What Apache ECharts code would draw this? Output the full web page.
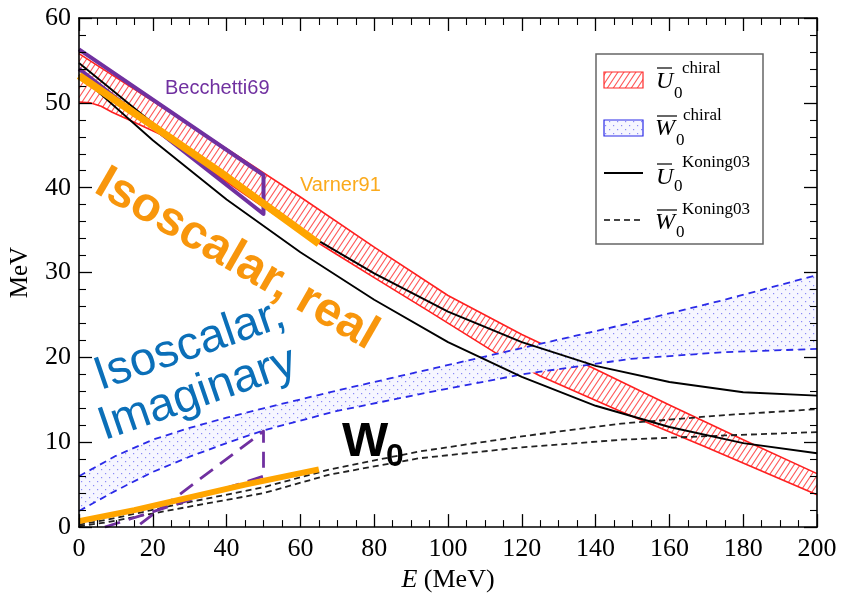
<!DOCTYPE html>
<html>
<head>
<meta charset="utf-8">
<script src="https://cdn.jsdelivr.net/npm/echarts/dist/echarts.min.js"></script>
<style>html,body{margin:0;padding:0;background:#fff}#chart{width:844px;height:598px}</style>
</head>
<body>
<div id="chart"></div>
<script>
// ---------- data ----------
// chiral real band (U0 chiral)
const redUpE = [0, 20, 40, 60, 80, 100, 120, 140, 160, 180, 200];
const redUpV = [55.8, 50.2, 44.6, 38.9, 33.0, 27.3, 22.7, 18.6, 14.4, 10.3, 6.3];
const redLoE = [0, 3, 6, 9, 12, 16, 22, 30, 40, 50, 60, 70, 80, 95, 113, 125, 147, 170, 200];
const redLoV = [50.1, 50.0, 49.6, 48.9, 48.3, 47.5, 46.3, 43.8, 40.7, 37.7, 34.8, 32.1, 29.4, 25.4, 20.5, 17.8, 13.6, 9.4, 3.8];
// chiral imaginary band (W0 chiral)
const blueUpE = [0, 10, 20, 30, 40, 50, 70, 95, 120, 149, 175, 200];
const blueUpV = [6.0, 8.4, 10.3, 11.7, 12.9, 14.0, 16.1, 18.6, 21.1, 24.0, 26.8, 29.7];
const blueLoE = [0, 10, 20, 30, 40, 50, 70, 95, 120, 149, 174, 200];
const blueLoV = [1.9, 4.3, 6.5, 8.3, 9.9, 11.4, 13.7, 15.9, 18.0, 19.8, 20.6, 21.0];
// Koning03 real (two nuclei)
const konUaE = [0, 20, 40, 60, 80, 100, 120, 140, 160, 180, 200];
const konUaV = [53.3, 45.6, 38.6, 32.4, 26.8, 21.8, 17.7, 14.3, 11.8, 9.9, 8.7];
const konUbE = [0, 20, 40, 60, 80, 100, 120, 140, 160, 180, 200];
const konUbV = [54.7, 47.6, 41.0, 35.0, 29.9, 25.4, 21.8, 19.0, 17.1, 15.9, 15.5];
// Koning03 imaginary (two nuclei)
const konWaE = [0, 8, 26, 50, 68, 92, 120, 147, 175, 200];
const konWaV = [0.3, 0.9, 2.6, 4.7, 6.8, 8.9, 10.7, 12.2, 13.2, 13.9];
const konWbE = [0, 8, 26, 50, 68, 92, 120, 147, 175, 200];
const konWbV = [0.1, 0.6, 2.1, 4.0, 6.2, 8.1, 9.4, 10.3, 10.8, 11.2];
// Varner91
const varRealE = [0, 20, 40, 65];
const varRealV = [53.2, 47.3, 41.3, 33.4];
const varImagE = [0, 15, 30, 45, 65];
const varImagV = [0.7, 2.0, 3.5, 5.0, 6.8];
// Becchetti69
const becRealE = [0, 50, 50, 0];
const becRealV = [56.3, 41.5, 36.9, 54.0];
const becImagE = [7, 50, 50, 15.5];
const becImagV = [0, 6.0, 11.3, 0];
// axes
const xTicks = {min: 0, max: 200, step: 20};
const yTicks = {min: 0, max: 60, step: 10};

// ---------- patterns ----------
function hatchPattern() {
  const c = document.createElement('canvas');
  c.width = 6; c.height = 9;
  const g = c.getContext('2d');
  g.fillStyle = '#ffffff'; g.fillRect(0, 0, 6, 9);
  g.strokeStyle = '#ff5a5a'; g.lineWidth = 1.1;
  g.beginPath();
  g.moveTo(-1, 10.5); g.lineTo(7, -1.5);
  g.moveTo(-7, 10.5); g.lineTo(1, -1.5);
  g.moveTo(5, 10.5); g.lineTo(13, -1.5);
  g.stroke();
  return {image: c, repeat: 'repeat'};
}
function dotPattern() {
  const c = document.createElement('canvas');
  c.width = 8; c.height = 8;
  const g = c.getContext('2d');
  g.fillStyle = '#f6f6ff'; g.fillRect(0, 0, 8, 8);
  g.fillStyle = '#8a8af6';
  g.fillRect(1, 1, 1.2, 1.2);
  g.fillRect(5, 5, 1.2, 1.2);
  return {image: c, repeat: 'repeat'};
}
const HATCH = hatchPattern();
const DOTS = dotPattern();

function band(upE, upV, loE, loV, fill, z) {
  return {
    type: 'custom', coordinateSystem: 'cartesian2d', z: z, silent: true,
    data: [[upE[0], upV[0]]],
    renderItem: function (params, api) {
      const pts = [];
      for (let i = 0; i < upE.length; i++) pts.push(api.coord([upE[i], upV[i]]));
      for (let i = loE.length - 1; i >= 0; i--) pts.push(api.coord([loE[i], loV[i]]));
      return {type: 'polygon', shape: {points: pts}, style: {fill: fill, stroke: null}};
    }
  };
}
function line(E, V, color, width, type, z) {
  return {
    type: 'line', data: E.map((e, i) => [e, V[i]]), showSymbol: false, symbol: 'none',
    lineStyle: {color: color, width: width, type: type || 'solid', join: 'round'}, z: z,
    smooth: false, silent: true, animation: false
  };
}

const serif = 'Liberation Serif';
function xAxisDef(top) {
  return {
    type: 'value', position: top ? 'top' : 'bottom', min: xTicks.min, max: xTicks.max, interval: xTicks.step, z: 10,
    axisLine: {onZero: false, lineStyle: {color: '#000', width: 1.6}},
    axisTick: {inside: true, length: 13, lineStyle: {color: '#000', width: 1.3}},
    minorTick: {show: true, splitNumber: 4, length: 7, lineStyle: {color: '#000', width: 1.1}},
    splitLine: {show: false}, minorSplitLine: {show: false},
    axisLabel: {show: !top, color: '#000', fontFamily: serif, fontSize: 26, margin: 9},
    name: top ? '' : '{i|E} (MeV)', nameLocation: 'middle', nameGap: 34,
    nameTextStyle: {color: '#000', fontFamily: serif, fontSize: 26,
      rich: {i: {fontStyle: 'italic', fontFamily: serif, fontSize: 26, color: '#000'}}}
  };
}
function yAxisDef(right) {
  return {
    type: 'value', position: right ? 'right' : 'left', min: yTicks.min, max: yTicks.max, interval: yTicks.step, z: 10,
    axisLine: {onZero: false, lineStyle: {color: '#000', width: 1.6}},
    axisTick: {inside: true, length: 13, lineStyle: {color: '#000', width: 1.3}},
    minorTick: {show: true, splitNumber: 5, length: 7, lineStyle: {color: '#000', width: 1.1}},
    splitLine: {show: false}, minorSplitLine: {show: false},
    axisLabel: {show: !right, color: '#000', fontFamily: serif, fontSize: 26, margin: 8},
    name: right ? '' : 'MeV', nameLocation: 'middle', nameGap: 46, nameRotate: 90,
    nameTextStyle: {color: '#000', fontFamily: serif, fontSize: 25}
  };
}

function txt(x, y, text, font, fill, align, rot) {
  return {type: 'text', x: x, y: y, rotation: (rot || 0) * Math.PI / 180, z: 100, silent: true,
    style: {text: text, font: font, fill: fill, align: align || 'left', verticalAlign: 'middle',
      textAlign: align || 'left', textVerticalAlign: 'middle'}};
}
function seg(x1, y1, x2, y2, color, w, dash) {
  return {type: 'line', z: 100, silent: true, shape: {x1: x1, y1: y1, x2: x2, y2: y2},
    style: {stroke: color, lineWidth: w, lineDash: dash || null}};
}
const itF = 'italic 24px "Liberation Serif"';
const smF = '17px "Liberation Serif"';
const legend = [
  {type: 'rect', z: 99, silent: true, shape: {x: 596, y: 54, width: 167, height: 190},
    style: {fill: '#fff', stroke: '#666', lineWidth: 1.5}},
  {type: 'rect', z: 100, silent: true, shape: {x: 604, y: 72, width: 39, height: 16},
    style: {fill: HATCH, stroke: '#ff2a2a', lineWidth: 1.2}},
  {type: 'rect', z: 100, silent: true, shape: {x: 604, y: 120, width: 39, height: 16},
    style: {fill: DOTS, stroke: '#2a2ae8', lineWidth: 1.2}},
  seg(604, 173, 643, 173, '#000', 1.8),
  seg(604, 220, 643, 220, '#444', 1.8, [6, 4]),
  txt(656, 82, 'U', itF, '#000'), seg(657, 68, 672, 68, '#000', 1.2),
  txt(674, 94, '0', smF, '#000'), txt(682, 69, 'chiral', smF, '#000'),
  txt(655, 129, 'W', itF, '#000'), seg(657, 116, 677, 116, '#000', 1.2),
  txt(676, 141, '0', smF, '#000'), txt(683, 116, 'chiral', smF, '#000'),
  txt(656, 178, 'U', itF, '#000'), seg(657, 164, 672, 164, '#000', 1.2),
  txt(674, 187, '0', smF, '#000'), txt(682, 163, 'Koning03', smF, '#000'),
  txt(655, 223, 'W', itF, '#000'), seg(657, 210, 677, 210, '#000', 1.2),
  txt(676, 233, '0', smF, '#000'), txt(682, 210, 'Koning03', smF, '#000')
];
const notes = [
  txt(165, 88, 'Becchetti69', '20px "Liberation Sans"', '#7030a0'),
  txt(300, 185, 'Varner91', '20px "Liberation Sans"', '#fbaa1c'),
  txt(99, 180, 'Isoscalar, real', 'bold 48px "Liberation Sans"', '#f8960c', 'left', -30),
  txt(96, 378, 'Isoscalar,', '47px "Liberation Sans"', '#0b6fb8', 'left', 19),
  txt(100, 428, 'Imaginary', '47px "Liberation Sans"', '#0b6fb8', 'left', 19),
  txt(342, 442, 'W', 'bold 49px "Liberation Sans"', '#000'),
  txt(386, 457, '0', 'bold 32px "Liberation Sans"', '#000')
];

const option = {
  animation: false,
  backgroundColor: '#fff',
  grid: {left: 79, right: 27, top: 18, bottom: 65},
  xAxis: [xAxisDef(false), xAxisDef(true)],
  yAxis: [yAxisDef(false), yAxisDef(true)],
  series: [
    band(redUpE, redUpV, redLoE, redLoV, HATCH, 1),
    line(redUpE, redUpV, '#ff2020', 1.6, 'solid', 2),
    line(redLoE, redLoV, '#ff2020', 1.6, 'solid', 2),
    band(blueUpE, blueUpV, blueLoE, blueLoV, DOTS, 3),
    line(blueUpE, blueUpV, '#2a2ae8', 1.8, [7, 5], 4),
    line(blueLoE, blueLoV, '#2a2ae8', 1.8, [7, 5], 4),
    line(konWaE, konWaV, '#222', 1.8, [6, 4], 5),
    line(konWbE, konWbV, '#222', 1.8, [6, 4], 5),
    line(konUaE, konUaV, '#000', 1.9, 'solid', 6),
    line(konUbE, konUbV, '#000', 1.9, 'solid', 6),
    line(becRealE, becRealV, '#7030a0', 4, 'solid', 7),
    line(becImagE, becImagV, '#7030a0', 2.8, [16, 9], 7),
    line(varRealE, varRealV, '#ffa500', 7.5, 'solid', 8),
    line(varImagE, varImagV, '#ffa500', 6, 'solid', 8)
  ],
  graphic: {elements: legend.concat(notes)}
};
const chart = echarts.init(document.getElementById('chart'), null, {renderer: 'canvas'});
chart.setOption(option);
</script>
</body>
</html>
